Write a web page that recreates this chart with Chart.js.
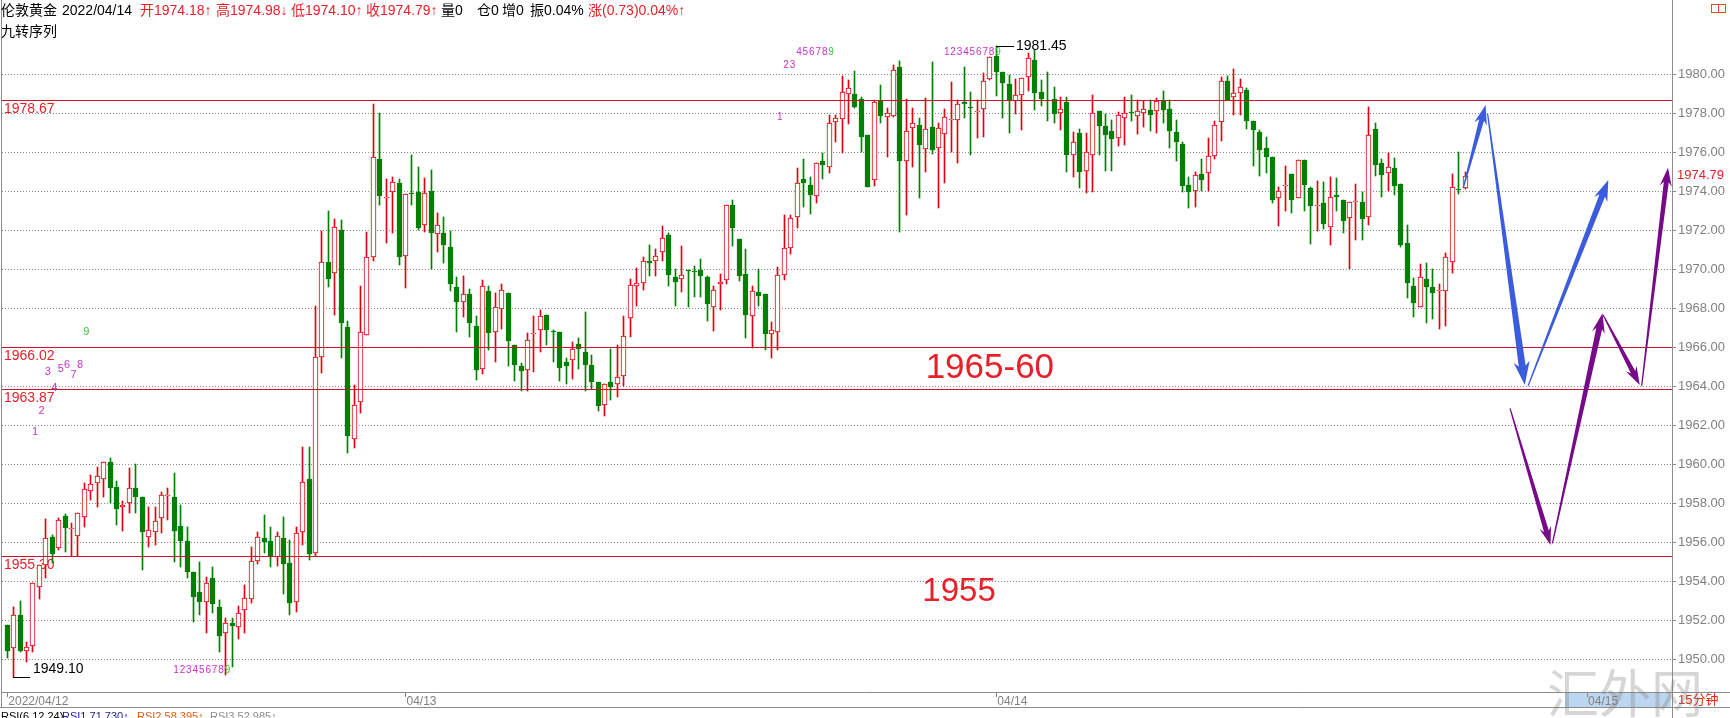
<!DOCTYPE html>
<html>
<head>
<meta charset="utf-8">
<title>伦敦黄金 15分钟</title>
<script src="https://cdn.jsdelivr.net/npm/chart.js@4.4.1/dist/chart.umd.min.js"></script>
<style>
  html, body { margin: 0; padding: 0; background: #fff; }
  canvas { display: block; }
</style>
</head>
<body>
<canvas id="gold_Chart" width="1730" height="718"></canvas>
<script>
// 15 minute candles of London gold, 2022/04/12 afternoon to 2022/04/14
const dayTicks = [0, 62, 154, 246]
const dayLabels = ['2022/04/12', '04/13', '04/14', '04/15']
const priceTicks = [1950, 1952, 1954, 1956, 1958, 1960, 1962, 1964, 1966, 1968, 1970, 1972, 1974, 1976, 1978, 1980]

const opens = [
    1951.74, 1950.56, 1952.26, 1950.44, 1950.70, 1953.73, 1954.85, 1956.29, 1955.69, 1957.37, 1956.68, 1956.32,
    1957.32, 1958.63, 1959.06, 1959.23, 1960.10, 1958.82, 1957.80, 1958.00, 1958.77, 1958.30, 1956.29, 1956.55,
    1957.23, 1958.38, 1958.30, 1956.84, 1956.09, 1954.50, 1953.44, 1952.92, 1954.15, 1952.67, 1951.33, 1951.85,
    1951.68, 1952.53, 1953.10, 1955.06, 1956.20, 1956.09, 1955.23, 1956.24, 1954.92, 1952.92, 1956.55, 1959.25,
    1955.44, 1965.49, 1970.36, 1969.80, 1972.00, 1967.06, 1961.28, 1963.21, 1966.63, 1970.62, 1975.66, 1973.65,
    1973.98, 1974.44, 1970.70, 1973.93, 1973.98, 1972.27, 1974.00, 1971.80, 1971.85, 1971.16, 1969.11, 1968.30,
    1968.75, 1967.08, 1964.89, 1968.90, 1966.77, 1967.97, 1968.79, 1966.14, 1965.06, 1964.85, 1966.68, 1966.87,
    1967.68, 1966.85, 1966.79, 1965.27, 1965.33, 1966.17, 1965.78, 1965.11, 1964.20, 1963.03, 1964.20, 1964.10,
    1964.51, 1967.50, 1969.16, 1969.30, 1970.42, 1970.41, 1970.89, 1971.78, 1969.61, 1969.50, 1969.95, 1969.90,
    1969.95, 1969.60, 1968.05, 1969.25, 1969.47, 1973.32, 1971.56, 1969.78, 1967.62, 1968.85, 1968.75, 1966.70,
    1966.77, 1969.73, 1971.10, 1972.67, 1974.62, 1974.31, 1973.76, 1975.57, 1975.23, 1977.56, 1977.69, 1978.99,
    1978.99, 1978.72, 1976.89, 1974.58, 1978.65, 1977.80, 1977.86, 1980.39, 1975.57, 1977.23, 1977.40, 1976.15,
    1977.28, 1976.20, 1976.92, 1977.64, 1977.66, 1978.56, 1978.34, 1978.05, 1978.20, 1979.74, 1980.94, 1980.14,
    1979.50, 1978.65, 1978.94, 1979.85, 1980.74, 1979.08, 1978.68, 1978.72, 1978.03, 1978.60, 1975.86, 1976.97,
    1975.06, 1975.86, 1978.14, 1977.35, 1977.11, 1976.72, 1977.74, 1978.08, 1977.86, 1978.03, 1978.17, 1978.14,
    1978.65, 1978.20, 1977.06, 1976.43, 1974.32, 1974.00, 1974.89, 1974.92, 1975.83, 1977.54, 1979.66, 1978.85,
    1979.06, 1979.20, 1977.62, 1977.06, 1976.20, 1975.74, 1973.64, 1974.27, 1974.87, 1973.64, 1975.61, 1974.15,
    1973.23, 1973.38, 1972.19, 1973.80, 1973.56, 1972.62, 1973.44, 1973.47, 1972.67, 1977.18, 1975.47, 1974.96,
    1975.18, 1974.38, 1971.33, 1969.15, 1968.05, 1969.49, 1969.08, 1968.92, 1968.90, 1970.38, 1974.10, 1974.18
]
const highs = [
    1951.74, 1952.67, 1952.97, 1950.91, 1953.91, 1954.85, 1957.20, 1956.35, 1957.23, 1957.45, 1956.97, 1957.49,
    1959.06, 1959.44, 1959.88, 1960.10, 1960.31, 1959.15, 1958.14, 1959.80, 1960.00, 1958.30, 1957.83, 1957.80,
    1958.60, 1958.77, 1959.54, 1957.92, 1956.80, 1954.50, 1955.00, 1954.24, 1954.75, 1953.04, 1952.10, 1952.10,
    1952.74, 1953.81, 1955.78, 1956.55, 1957.40, 1956.77, 1956.55, 1957.32, 1956.12, 1956.77, 1960.91, 1960.91,
    1968.12, 1971.98, 1973.00, 1972.60, 1972.53, 1967.37, 1964.05, 1969.16, 1971.93, 1978.48, 1978.00, 1974.62,
    1974.75, 1974.62, 1973.86, 1975.86, 1975.26, 1974.67, 1975.10, 1972.90, 1972.67, 1971.98, 1969.62, 1969.66,
    1968.99, 1967.60, 1969.47, 1969.16, 1968.79, 1969.26, 1968.79, 1966.14, 1965.20, 1966.74, 1967.60, 1967.93,
    1967.68, 1966.90, 1966.79, 1965.45, 1966.25, 1966.48, 1967.83, 1965.62, 1964.20, 1964.14, 1965.91, 1966.14,
    1967.62, 1969.50, 1970.07, 1970.63, 1971.27, 1971.04, 1972.24, 1971.86, 1970.02, 1971.21, 1969.95, 1970.15,
    1970.53, 1969.64, 1969.16, 1969.74, 1973.32, 1973.57, 1971.56, 1971.04, 1969.16, 1970.02, 1968.75, 1967.28,
    1970.12, 1972.80, 1972.80, 1975.18, 1975.64, 1974.75, 1975.44, 1975.95, 1977.91, 1977.91, 1979.93, 1979.71,
    1980.17, 1978.85, 1976.89, 1978.68, 1979.45, 1978.26, 1980.48, 1980.70, 1978.72, 1978.26, 1977.74, 1978.77,
    1980.65, 1977.49, 1978.20, 1979.62, 1978.68, 1980.36, 1979.11, 1978.68, 1980.05, 1980.90, 1981.45, 1980.14,
    1979.97, 1979.74, 1979.79, 1981.08, 1981.25, 1979.71, 1980.14, 1979.33, 1978.85, 1978.82, 1977.06, 1977.18,
    1976.97, 1978.94, 1978.14, 1977.97, 1977.66, 1978.08, 1978.85, 1978.94, 1978.68, 1978.65, 1978.68, 1978.77,
    1979.16, 1978.68, 1977.66, 1976.55, 1974.75, 1975.00, 1975.64, 1976.72, 1977.61, 1979.88, 1979.91, 1980.26,
    1979.74, 1979.28, 1977.62, 1977.15, 1976.80, 1975.74, 1974.24, 1975.30, 1974.87, 1975.61, 1975.61, 1974.24,
    1974.55, 1974.50, 1974.75, 1974.67, 1973.56, 1973.44, 1974.38, 1973.98, 1978.30, 1977.52, 1975.64, 1975.98,
    1975.69, 1974.38, 1972.27, 1969.54, 1970.27, 1970.30, 1970.00, 1969.25, 1970.85, 1974.89, 1976.00, 1974.98
]
const lows = [
    1950.05, 1949.10, 1950.39, 1949.85, 1950.39, 1953.11, 1954.15, 1954.92, 1955.60, 1955.52, 1955.30, 1955.30,
    1956.80, 1958.17, 1957.83, 1958.30, 1958.03, 1956.89, 1956.60, 1957.52, 1957.52, 1954.60, 1955.74, 1955.86,
    1956.50, 1957.15, 1955.00, 1954.75, 1954.15, 1951.93, 1952.27, 1951.33, 1952.36, 1950.39, 1949.20, 1949.60,
    1951.03, 1951.33, 1952.90, 1954.89, 1955.47, 1954.75, 1954.78, 1953.33, 1952.27, 1952.40, 1955.87, 1955.10,
    1955.30, 1964.70, 1969.08, 1967.66, 1965.44, 1960.56, 1960.82, 1962.65, 1966.63, 1970.45, 1973.30, 1971.33,
    1971.85, 1970.22, 1969.03, 1973.30, 1972.00, 1971.93, 1970.00, 1970.90, 1970.30, 1968.90, 1966.80, 1967.54,
    1966.53, 1964.30, 1964.65, 1965.85, 1965.23, 1966.94, 1965.06, 1964.26, 1963.74, 1963.74, 1964.72, 1965.74,
    1966.14, 1965.23, 1964.26, 1964.14, 1964.40, 1964.90, 1963.74, 1963.86, 1962.72, 1962.50, 1963.32, 1963.45,
    1964.00, 1966.53, 1968.14, 1968.96, 1969.64, 1969.64, 1970.41, 1969.16, 1968.14, 1968.82, 1968.05, 1968.60,
    1968.60, 1967.33, 1966.82, 1967.93, 1969.25, 1971.20, 1969.38, 1966.48, 1965.97, 1968.14, 1965.85, 1965.45,
    1965.88, 1969.44, 1970.80, 1972.10, 1973.18, 1972.84, 1973.42, 1974.62, 1974.92, 1976.55, 1975.95, 1977.45,
    1978.26, 1976.03, 1974.24, 1974.27, 1977.49, 1975.74, 1977.83, 1971.93, 1972.79, 1975.26, 1973.64, 1975.00,
    1975.91, 1973.13, 1974.44, 1976.03, 1975.44, 1977.74, 1975.86, 1976.72, 1976.80, 1979.70, 1978.89, 1977.74,
    1977.00, 1977.97, 1977.15, 1979.16, 1978.17, 1978.38, 1977.62, 1977.49, 1977.15, 1975.00, 1974.72, 1974.16,
    1973.93, 1973.98, 1975.86, 1975.03, 1975.03, 1976.33, 1976.38, 1977.62, 1976.94, 1977.32, 1977.11, 1977.00,
    1977.52, 1976.20, 1975.53, 1973.98, 1973.13, 1973.21, 1974.03, 1974.00, 1975.64, 1976.60, 1978.68, 1977.91,
    1977.91, 1977.18, 1975.30, 1974.79, 1974.92, 1973.42, 1972.22, 1973.00, 1972.87, 1973.64, 1973.00, 1971.30,
    1971.98, 1972.05, 1971.25, 1973.00, 1971.85, 1970.00, 1971.50, 1971.50, 1972.27, 1974.79, 1973.72, 1974.03,
    1973.81, 1971.13, 1968.51, 1967.54, 1968.05, 1967.23, 1967.44, 1966.92, 1967.08, 1969.83, 1973.86, 1974.10
]
const closes = [
    1950.44, 1952.26, 1950.44, 1950.62, 1953.91, 1954.85, 1956.22, 1955.40, 1957.15, 1956.72, 1956.74, 1957.49,
    1958.72, 1958.99, 1959.40, 1960.10, 1958.80, 1957.73, 1957.90, 1958.77, 1958.30, 1956.55, 1956.63, 1957.11,
    1958.41, 1958.41, 1956.60, 1956.09, 1954.50, 1953.18, 1952.96, 1953.93, 1952.82, 1951.21, 1951.85, 1951.73,
    1952.36, 1953.13, 1955.03, 1956.29, 1956.03, 1955.23, 1956.32, 1954.87, 1952.87, 1956.46, 1959.08, 1955.40,
    1965.49, 1970.36, 1969.49, 1972.19, 1967.26, 1961.45, 1963.03, 1966.79, 1970.65, 1975.74, 1973.78, 1973.72,
    1974.50, 1970.65, 1973.86, 1973.86, 1972.14, 1973.90, 1971.88, 1972.26, 1971.25, 1969.25, 1968.34, 1968.74,
    1967.25, 1964.85, 1969.13, 1966.73, 1968.07, 1968.96, 1966.31, 1965.11, 1964.77, 1966.39, 1966.74, 1967.59,
    1966.90, 1966.77, 1964.94, 1965.03, 1965.91, 1965.91, 1965.11, 1964.20, 1962.97, 1964.14, 1963.95, 1964.48,
    1966.60, 1969.18, 1969.30, 1970.41, 1970.33, 1970.67, 1971.60, 1969.73, 1969.33, 1969.71, 1969.90, 1969.85,
    1969.64, 1968.22, 1968.96, 1969.35, 1973.32, 1972.12, 1969.68, 1967.68, 1968.91, 1968.65, 1966.70, 1966.90,
    1969.73, 1971.10, 1972.62, 1974.44, 1974.41, 1973.79, 1975.44, 1975.33, 1977.49, 1977.74, 1979.08, 1979.28,
    1978.34, 1976.77, 1974.24, 1978.60, 1977.86, 1978.00, 1980.22, 1975.57, 1977.11, 1977.49, 1976.38, 1977.18,
    1976.12, 1977.23, 1977.83, 1977.71, 1978.46, 1978.50, 1978.26, 1978.12, 1979.68, 1980.87, 1980.14, 1979.57,
    1978.65, 1978.94, 1979.79, 1980.82, 1979.06, 1978.72, 1978.63, 1977.97, 1978.20, 1975.86, 1976.55, 1975.00,
    1976.03, 1978.03, 1977.35, 1976.89, 1976.67, 1977.91, 1978.03, 1978.03, 1978.14, 1978.20, 1977.91, 1978.65,
    1978.17, 1977.11, 1976.55, 1974.27, 1973.98, 1974.84, 1974.58, 1975.81, 1977.40, 1979.66, 1978.68, 1979.03,
    1979.37, 1977.62, 1977.15, 1976.12, 1975.78, 1973.56, 1974.03, 1974.33, 1973.56, 1975.61, 1974.33, 1973.25,
    1973.28, 1972.32, 1973.69, 1973.72, 1972.50, 1973.44, 1973.50, 1972.56, 1976.89, 1975.35, 1974.84, 1975.23,
    1974.27, 1971.25, 1969.32, 1968.29, 1969.59, 1969.11, 1968.77, 1968.96, 1970.62, 1974.20, 1974.05, 1974.79
]

// support / resistance lines drawn by hand on the chart
const levelPrices = [1978.67, 1966.02, 1963.87, 1955.30]
const zoneTexts = ['1965-60', '1955']
const zoneAnchors = [[153, 1964.91], [148.2, 1953.45]]

// 九转序列 counters: [candle index, price], digits 1..9 in order
const nineLeft = [[4, 1961.64], [5, 1962.73], [6, 1964.73], [7, 1963.90], [8, 1964.87], [9, 1965.09], [10, 1964.58], [11, 1965.09], [12, 1966.77]]
const nineLow = [[26, 1949.46], [27, 1949.46], [28, 1949.46], [29, 1949.46], [30, 1949.46], [31, 1949.46], [32, 1949.46], [33, 1949.46], [34, 1949.46]]
const nineTopA = [[120, 1977.81], [121, 1980.48], [122, 1980.48], [123, 1981.13], [124, 1981.13], [125, 1981.13], [126, 1981.13], [127, 1981.13], [128, 1981.13]]
const nineTopB = [[146, 1981.13], [147, 1981.13], [148, 1981.13], [149, 1981.13], [150, 1981.13], [151, 1981.13], [152, 1981.13], [153, 1981.13], [154, 1981.13]]

// forecast arrows: tail and tip as [candle slot, price]
const arrowFrom = [[226.7, 1974.15], [230.5, 1978.00], [236.8, 1964.02], [234.0, 1962.87], [240.6, 1955.95], [248.5, 1967.66], [254.5, 1964.02]]
const arrowTo = [[230.2, 1978.43], [236.3, 1964.07], [249.3, 1974.58], [240.3, 1955.86], [248.4, 1967.74], [254.2, 1964.07], [258.6, 1975.21]]
const arrowPath = ['blue', 'blue', 'blue', 'purple', 'purple', 'purple', 'purple']

const highMark = [154, 1981.45]
const lowMark = [1, 1949.10]
const lastPrice = 1974.79

// ---- look ----
const RED = '#e00010'
const GREEN = '#008000'
const LINE_RED = '#cc1428'
const TEXT_RED = '#e8202a'
const MAGENTA = '#c832c8'
const NINE_GREEN = '#33c833'
const AXIS_GRAY = '#808080'
const FONT = '"Liberation Sans", "Noto Sans CJK SC", sans-serif'
const CJK = '"Noto Sans CJK SC", "Liberation Sans", sans-serif'
const X_MIN = -0.825
const X_MAX = 259.22
const Y_MIN = 1948.323
const Y_MAX = 1983.195
const arrowColor = {blue: '#3b5cdc', purple: '#760a88'}
const arrowShaft = [5, 7, 6, 5, 6, 5, 5]
const arrowHead = [13, 16, 14, 12, 13, 12, 12]

const candleIndex = closes.map((c, i) => i)
const rising = candleIndex.map(i => closes[i] >= opens[i])

const bodyData = candleIndex.map(i => ({x: i, y: [opens[i], closes[i]]}))
const wickData = candleIndex.map(i => ({x: i, y: [lows[i], highs[i]]}))

const levelSets = levelPrices.map(p => ({
    type: 'line',
    data: [{x: X_MIN, y: p}, {x: X_MAX, y: p}],
    borderColor: LINE_RED,
    borderWidth: 1,
    pointRadius: 0,
    order: 0
}))

function put_text(ctx, s, x, y, color, font, align = 'left', base = 'middle')
{
    ctx.fillStyle = color
    ctx.font = font
    ctx.textAlign = align
    ctx.textBaseline = base
    ctx.fillText(s, x, y)
}

function draw_arrow(ctx, x1, y1, x2, y2, color, shaft, head)
{
    const len = Math.hypot(x2 - x1, y2 - y1)
    const ux = (x2 - x1) / len, uy = (y2 - y1) / len
    const nx = -uy, ny = ux
    const headLen = head * 1.2
    const bx = x2 - ux * headLen, by = y2 - uy * headLen
    const sweep = 4
    ctx.fillStyle = color
    ctx.beginPath()
    ctx.moveTo(x1 + nx * 0.6, y1 + ny * 0.6)
    ctx.lineTo(bx + nx * shaft / 2, by + ny * shaft / 2)
    ctx.lineTo(bx - ux * sweep + nx * head / 2, by - uy * sweep + ny * head / 2)
    ctx.lineTo(x2, y2)
    ctx.lineTo(bx - ux * sweep - nx * head / 2, by - uy * sweep - ny * head / 2)
    ctx.lineTo(bx - nx * shaft / 2, by - ny * shaft / 2)
    ctx.lineTo(x1 - nx * 0.6, y1 - ny * 0.6)
    ctx.closePath()
    ctx.fill()
}

// snap the candles and level lines to whole pixels so they stay crisp
const snapPlugin = {
    id: 'snap',
    beforeDatasetDraw(chart, args)
    {
        const meta = args.meta
        if (meta.type === 'bar') {
            meta.data.forEach(el => {
                el.x = Math.floor(el.x) + 0.5
                const top = Math.round(Math.min(el.y, el.base))
                const bottom = Math.round(Math.max(el.y, el.base))
                el.y = top
                el.base = Math.max(bottom, top + 1)
            })
        }
        else if (meta.type === 'line') {
            meta.data.forEach(p => { p.y = Math.round(p.y) + 0.5 })
        }
    }
}

const decorPlugin = {
    id: 'decor',
    beforeDraw(chart)
    {
        const ctx = chart.ctx
        ctx.save()
        ctx.fillStyle = '#ffffff'
        ctx.fillRect(0, 0, chart.width, chart.height)
        // the next trading day cell on the time axis is highlighted
        ctx.fillStyle = '#bdd6ef'
        ctx.fillRect(1565, 693, 106, 14)
        ctx.restore()
    },
    beforeDatasetsDraw(chart)
    {
        const ctx = chart.ctx
        const ys = chart.scales.y
        ctx.save()
        levelPrices.forEach(p => {
            put_text(ctx, p.toFixed(2), 4, Math.round(ys.getPixelForValue(p)) + 2, TEXT_RED, '14px ' + FONT, 'left', 'top')
        })
        ctx.restore()
    },
    afterDatasetsDraw(chart)
    {
        const ctx = chart.ctx
        const xs = chart.scales.x, ys = chart.scales.y
        const px = v => xs.getPixelForValue(v)
        const py = v => ys.getPixelForValue(v)
        ctx.save()

        arrowFrom.forEach((a, i) => {
            const b = arrowTo[i]
            draw_arrow(ctx, px(a[0]), py(a[1]), px(b[0]), py(b[1]), arrowColor[arrowPath[i]], arrowShaft[i], arrowHead[i])
        })

        zoneTexts.forEach((t, i) => {
            put_text(ctx, t, px(zoneAnchors[i][0]), py(zoneAnchors[i][1]), TEXT_RED, (i === 0 ? '35px ' : '33px ') + FONT, 'center', 'middle')
        })

        const nine = (group, size) => group.forEach((g, k) => {
            put_text(ctx, String(k + 1), px(g[0]) - 1, py(g[1]), k === 8 ? NINE_GREEN : MAGENTA, size + 'px ' + FONT, 'left', 'middle')
        })
        nine(nineLeft, 11)
        nine(nineLow, 10)
        nine(nineTopA, 10)
        nine(nineTopB, 10)

        // highest and lowest price marks
        ctx.strokeStyle = '#000'
        ctx.lineWidth = 1
        let hx = Math.floor(px(highMark[0])), hy = Math.round(py(highMark[1])) + 0.5
        ctx.beginPath(); ctx.moveTo(hx, hy); ctx.lineTo(hx + 18, hy); ctx.stroke()
        put_text(ctx, highMark[1].toFixed(2), hx + 20, hy, '#000', '14px ' + FONT, 'left', 'middle')
        let lx = Math.floor(px(lowMark[0])), ly = Math.round(py(lowMark[1])) + 0.5
        ctx.beginPath(); ctx.moveTo(lx, ly); ctx.lineTo(lx + 17, ly); ctx.stroke()
        put_text(ctx, lowMark[1].toFixed(2), lx + 20, ly - 1, '#000', '14px ' + FONT, 'left', 'bottom')
        ctx.restore()
    },
    afterDraw(chart)
    {
        const ctx = chart.ctx
        const ys = chart.scales.y
        const area = chart.chartArea
        ctx.save()

        // frame
        ctx.strokeStyle = '#8c8c8c'
        ctx.lineWidth = 1
        ctx.beginPath()
        ctx.moveTo(1.5, 0); ctx.lineTo(1.5, 708)
        ctx.moveTo(area.right + 0.5, 0); ctx.lineTo(area.right + 0.5, 718)
        ctx.moveTo(1, area.bottom + 0.5); ctx.lineTo(1730, area.bottom + 0.5)
        ctx.moveTo(0, 707.5); ctx.lineTo(1730, 707.5)
        ctx.stroke()

        // last price on the axis
        put_text(ctx, lastPrice.toFixed(2), area.right + 5, ys.getPixelForValue(lastPrice), TEXT_RED, '13px ' + FONT, 'left', 'middle')
        put_text(ctx, '15分钟', area.right + 6, 700, '#e03010', '13px ' + FONT, 'left', 'middle')

        // small window icon at the top right
        ctx.strokeStyle = '#e05020'
        ctx.strokeRect(1711.5, 4.5, 14, 8)
        ctx.beginPath(); ctx.moveTo(1718.5, 4.5); ctx.lineTo(1718.5, 12.5); ctx.stroke()

        // header lines
        const head = [
            [1, '伦敦黄金', '#000'], [62, '2022/04/14', '#000'],
            [140, '开1974.18↑', TEXT_RED], [216, '高1974.98↓', TEXT_RED], [291, '低1974.10↑', TEXT_RED],
            [366, '收1974.79↑', TEXT_RED], [441, '量0', '#000'], [477, '仓0', '#000'], [502, '增0', '#000'],
            [530, '振0.04%', '#000'], [588, '涨(0.73)0.04%↑', TEXT_RED]
        ]
        head.forEach(h => put_text(ctx, h[1], h[0], 11, h[2], '14px ' + FONT))
        put_text(ctx, '九转序列', 1, 31, '#000', '14px ' + CJK)

        // indicator line, cut by the bottom edge
        const rsi = [[1, 'RSI(6,12,24)', '#000'], [62, 'RSI1 71.730↑', '#1a1a8c'], [137, 'RSI2 58.395↑', '#e05a10'], [210, 'RSI3 52.985↑', '#8c8c8c']]
        rsi.forEach(r => put_text(ctx, r[1], r[0], 720, r[2], '11px ' + FONT, 'left', 'alphabetic'))

        // watermark
        put_text(ctx, '汇外网', 1547, 693, 'rgba(120,120,120,0.3)', '52px ' + CJK, 'left', 'middle')
        ctx.restore()
    }
}

const ctx = document.getElementById('gold_Chart').getContext('2d')
const gold_chart = new Chart(ctx, {
    type: 'bar',
    data: {
        datasets: [
            ...levelSets,
            {
                label: 'body',
                data: bodyData,
                backgroundColor: candleIndex.map(i => rising[i] ? '#ffffff' : GREEN),
                borderColor: candleIndex.map(i => rising[i] ? RED : GREEN),
                borderWidth: 1,
                borderSkipped: false,
                barThickness: 5,
                grouped: false,
                order: 1
            },
            {
                label: 'wick',
                data: wickData,
                backgroundColor: candleIndex.map(i => rising[i] ? RED : GREEN),
                borderWidth: 0,
                barThickness: 1,
                grouped: false,
                order: 2
            }
        ]
    },
    options: {
        responsive: false,
        animation: false,
        devicePixelRatio: 1,
        events: [],
        layout: {padding: {left: 2, top: 12, right: 0, bottom: 0}},
        plugins: {
            legend: {display: false},
            tooltip: {enabled: false}
        },
        scales: {
            x: {
                type: 'linear',
                min: X_MIN,
                max: X_MAX,
                offset: false,
                afterBuildTicks: s => { s.ticks = dayTicks.map(v => ({value: v})) },
                afterFit: s => { s.height = 26 },
                ticks: {
                    callback: (v, i) => dayLabels[i],
                    align: 'start',
                    labelOffset: 1,
                    padding: -3,
                    maxRotation: 0,
                    autoSkip: false,
                    color: AXIS_GRAY,
                    font: {size: 12, family: FONT}
                },
                grid: {display: true, drawOnChartArea: false, drawTicks: true, tickLength: 5, tickColor: AXIS_GRAY, offset: false},
                border: {display: false}
            },
            y: {
                position: 'right',
                min: Y_MIN,
                max: Y_MAX,
                afterBuildTicks: s => { s.ticks = priceTicks.map(v => ({value: v})) },
                afterFit: s => { s.width = 58 },
                ticks: {
                    callback: v => Number(v).toFixed(2),
                    color: AXIS_GRAY,
                    padding: 2,
                    font: {size: 13, family: FONT}
                },
                grid: {color: '#8a8a8a', lineWidth: 1, tickLength: 4, tickColor: '#8a8a8a'},
                border: {display: false, dash: [1, 2]}
            }
        }
    },
    plugins: [snapPlugin, decorPlugin]
})
</script>
</body>
</html>
